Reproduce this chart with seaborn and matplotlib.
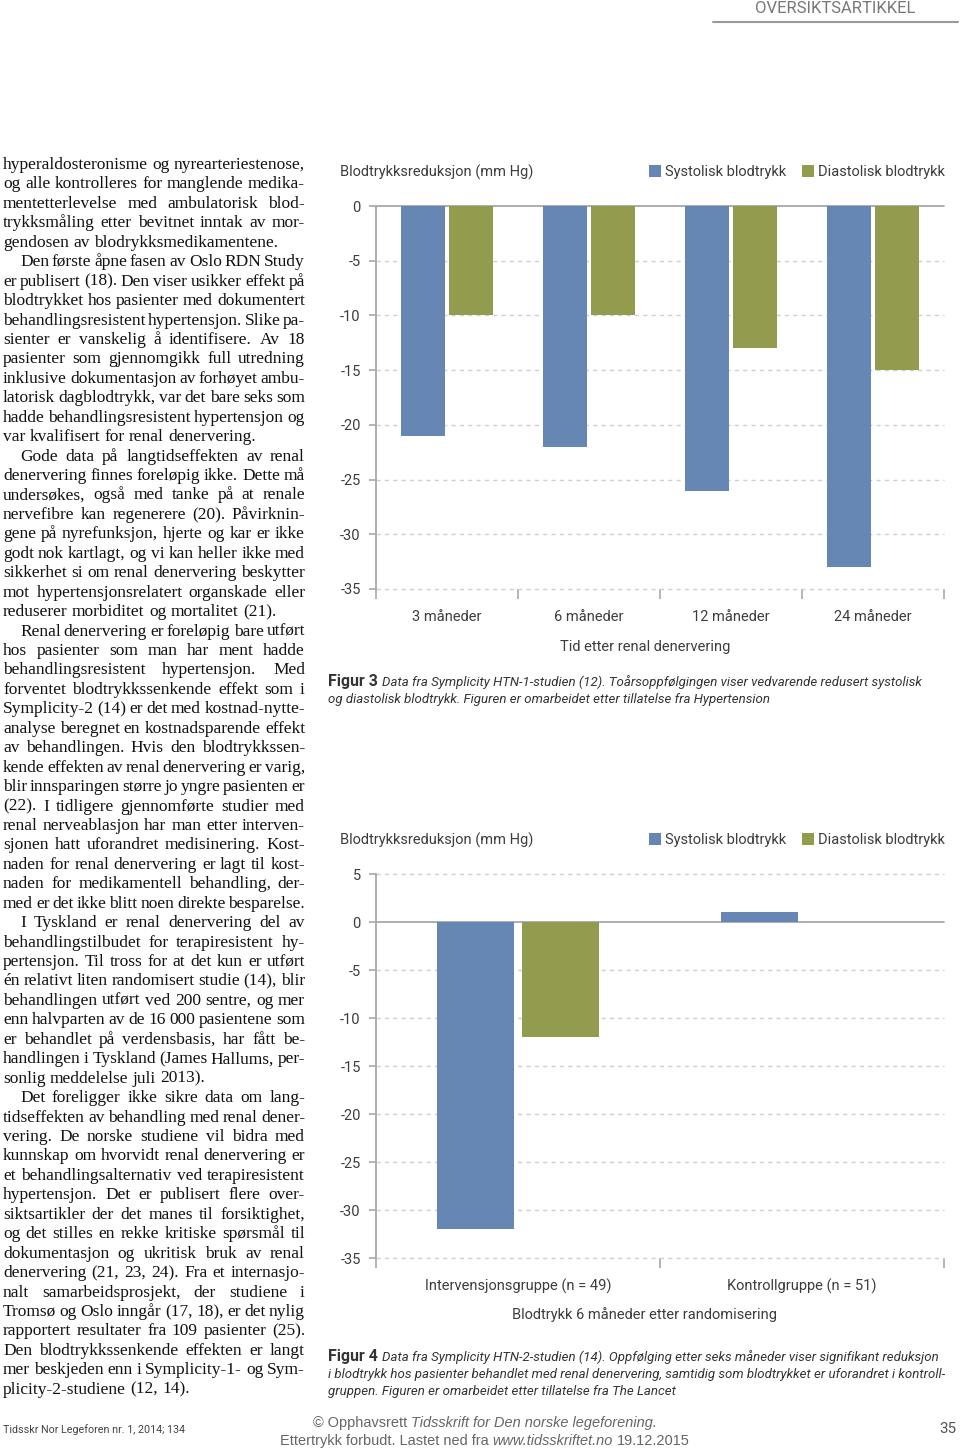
import numpy as np
import pandas as pd
import seaborn as sns
import matplotlib
matplotlib.use("Agg")
import matplotlib.pyplot as plt
from matplotlib.lines import Line2D
from matplotlib.font_manager import FontProperties

# ---------------- data ----------------
periods = ["3 måneder", "6 måneder", "12 måneder", "24 måneder"]
sys1 = [-21, -22, -26, -33]
dia1 = [-10, -10, -13, -15]
groups = ["Intervensjonsgruppe (n = 49)", "Kontrollgruppe (n = 51)"]
sys2 = [-32, 1]
dia2 = [-12, 0]
series = ["Systolisk blodtrykk", "Diastolisk blodtrykk"]
yticks1 = [0, -5, -10, -15, -20, -25, -30, -35]
yticks2 = [5, 0, -5, -10, -15, -20, -25, -30, -35]
colors = ["#6686b4", "#939b4e"]

paragraphs = [
    (False, ["hyperaldosteronisme og nyrearteriestenose,",
             "og alle kontrolleres for manglende medika-",
             "mentetterlevelse med ambulatorisk blod-",
             "trykksmåling etter bevitnet inntak av mor-",
             "gendosen av blodrykksmedikamentene."]),
    (True, ["Den første åpne fasen av Oslo RDN Study",
            "er publisert (18). Den viser usikker effekt på",
            "blodtrykket hos pasienter med dokumentert",
            "behandlingsresistent hypertensjon. Slike pa-",
            "sienter er vanskelig å identifisere. Av 18",
            "pasienter som gjennomgikk full utredning",
            "inklusive dokumentasjon av forhøyet ambu-",
            "latorisk dagblodtrykk, var det bare seks som",
            "hadde behandlingsresistent hypertensjon og",
            "var kvalifisert for renal denervering."]),
    (True, ["Gode data på langtidseffekten av renal",
            "denervering finnes foreløpig ikke. Dette må",
            "undersøkes, også med tanke på at renale",
            "nervefibre kan regenerere (20). Påvirknin-",
            "gene på nyrefunksjon, hjerte og kar er ikke",
            "godt nok kartlagt, og vi kan heller ikke med",
            "sikkerhet si om renal denervering beskytter",
            "mot hypertensjonsrelatert organskade eller",
            "reduserer morbiditet og mortalitet (21)."]),
    (True, ["Renal denervering er foreløpig bare utført",
            "hos pasienter som man har ment hadde",
            "behandlingsresistent hypertensjon. Med",
            "forventet blodtrykkssenkende effekt som i",
            "Symplicity-2 (14) er det med kostnad-nytte-",
            "analyse beregnet en kostnadsparende effekt",
            "av behandlingen. Hvis den blodtrykkssen-",
            "kende effekten av renal denervering er varig,",
            "blir innsparingen større jo yngre pasienten er",
            "(22). I tidligere gjennomførte studier med",
            "renal nerveablasjon har man etter interven-",
            "sjonen hatt uforandret medisinering. Kost-",
            "naden for renal denervering er lagt til kost-",
            "naden for medikamentell behandling, der-",
            "med er det ikke blitt noen direkte besparelse."]),
    (True, ["I Tyskland er renal denervering del av",
            "behandlingstilbudet for terapiresistent hy-",
            "pertensjon. Til tross for at det kun er utført",
            "én relativt liten randomisert studie (14), blir",
            "behandlingen utført ved 200 sentre, og mer",
            "enn halvparten av de 16 000 pasientene som",
            "er behandlet på verdensbasis, har fått be-",
            "handlingen i Tyskland (James Hallums, per-",
            "sonlig meddelelse juli 2013)."]),
    (True, ["Det foreligger ikke sikre data om lang-",
            "tidseffekten av behandling med renal dener-",
            "vering. De norske studiene vil bidra med",
            "kunnskap om hvorvidt renal denervering er",
            "et behandlingsalternativ ved terapiresistent",
            "hypertensjon. Det er publisert flere over-",
            "siktsartikler der det manes til forsiktighet,",
            "og det stilles en rekke kritiske spørsmål til",
            "dokumentasjon og ukritisk bruk av renal",
            "denervering (21, 23, 24). Fra et internasjo-",
            "nalt samarbeidsprosjekt, der studiene i",
            "Tromsø og Oslo inngår (17, 18), er det nylig",
            "rapportert resultater fra 109 pasienter (25).",
            "Den blodtrykkssenkende effekten er langt",
            "mer beskjeden enn i Symplicity-1- og Sym-",
            "plicity-2-studiene (12, 14)."]),
]

# ---------------- figure ----------------
sns.set_theme(style="white")
plt.rcParams["font.family"] = ["Roboto", "DejaVu Sans"]
W, H = 960, 1452
fig = plt.figure(figsize=(W / 100, H / 100), dpi=100)
renderer = fig.canvas.get_renderer()


def fx(x):
    return x / W


def fy(y):
    return 1 - y / H


def tw(s, fp):
    return renderer.get_text_width_height_descent(s, fp, ismath=False)[0]


def fit_size(s, family, target, style="normal", weight="normal"):
    fp = FontProperties(family=family, size=10, style=style, weight=weight)
    return 10 * target / tw(s, fp)


CH = "#3d3d3d"
GRID = "#cfcfcf"
AX = "#a8a8a8"
chart_font = ["Roboto", "DejaVu Sans"]
cfs = fit_size("Blodtrykksreduksjon (mm Hg)", chart_font, 195)


def draw_chart(top, bottom, cats, s_vals, d_vals, yticks, width, title_y, xlab, xlab_y):
    n = len(cats)
    df = pd.DataFrame({
        "cat": cats * 2,
        "type": [series[0]] * n + [series[1]] * n,
        "value": list(s_vals) + list(d_vals),
    })
    ax = fig.add_axes([fx(376), fy(bottom), fx(944) - fx(376), (bottom - top) / H])
    sns.barplot(data=df, x="cat", y="value", hue="type", order=cats, hue_order=series,
                palette=colors, width=width, gap=0.1, saturation=1, linewidth=0,
                ax=ax, zorder=3)
    ax.set_ylim(min(yticks), max(yticks))
    ax.set_xlim(-0.5, n - 0.5)
    for sp in ["top", "right", "bottom"]:
        ax.spines[sp].set_visible(False)
    ax.spines["left"].set_color(AX)
    ax.spines["left"].set_linewidth(1.3)
    for v in yticks:
        if v == 0:
            ax.axhline(0, color=AX, lw=1.3, zorder=2, clip_on=False)
        else:
            ax.axhline(v, color=GRID, lw=1.0, ls=(0, (3, 3)), zorder=1, clip_on=False)
    ax.set_yticks(yticks)
    ax.set_yticklabels([str(v) for v in yticks])
    ax.tick_params(axis="y", length=5, width=1.2, color=AX, labelsize=cfs,
                   labelcolor=CH, pad=6, direction="out", left=True)
    ax.set_xticks(range(n))
    ax.set_xticklabels(cats)
    ax.set_xticks(np.arange(-0.5, n, 1.0), minor=True)
    ax.tick_params(axis="x", which="major", length=0, labelsize=cfs, labelcolor=CH,
                   pad=15, bottom=True)
    ax.tick_params(axis="x", which="minor", length=7, width=1.2, color=AX,
                   direction="out", bottom=True)
    ax.set_ylabel("")
    ax.set_xlabel("")
    handles, labels = ax.get_legend_handles_labels()
    if ax.get_legend() is not None:
        ax.get_legend().remove()
    leg = ax.legend(handles, labels, loc="center right",
                    bbox_to_anchor=(fx(945), fy(title_y)), bbox_transform=fig.transFigure,
                    ncol=2, frameon=False, fontsize=cfs, handlelength=0.85,
                    handleheight=0.85, handletextpad=0.25, columnspacing=1.1,
                    borderpad=0, borderaxespad=0)
    for t in leg.get_texts():
        t.set_color(CH)
    fig.text(fx(340), fy(title_y), "Blodtrykksreduksjon (mm Hg)", ha="left", va="center",
             fontsize=cfs, color=CH, family=chart_font)
    fig.text(fx(645), fy(xlab_y), xlab, ha="center", va="center", fontsize=cfs,
             color=CH, family=chart_font)
    return ax


draw_chart(206, 589, periods, sys1, dia1, yticks1, 0.68, 172,
           "Tid etter renal denervering", 647)
draw_chart(874, 1258, groups, sys2, dia2, yticks2, 0.6, 840,
           "Blodtrykk 6 måneder etter randomisering", 1315)


# ---------------- captions ----------------
def rich(x, y, parts, ha="left", color="#333333"):
    """parts: list of (text, FontProperties). Gaps between parts are single spaces."""
    widths = [tw(s, fp) for s, fp in parts]
    spaces = [tw("n n", fp) - tw("nn", fp) for s, fp in parts]
    total = sum(widths) + sum(spaces[:-1])
    cx = x - total / 2 if ha == "center" else x
    for (s, fp), w, sp in zip(parts, widths, spaces):
        fig.text(fx(cx), fy(y), s, ha="left", va="baseline", fontproperties=fp, color=color)
        cx += w + sp


cap_font = ["Roboto", "DejaVu Sans"]
capfs = fit_size("i blodtrykk hos pasienter behandlet med renal denervering, samtidig som "
                 "blodtrykket er uforandret i kontroll-", cap_font, 614, style="italic")
fp_it = FontProperties(family=cap_font, size=capfs, style="italic")
fp_bd = FontProperties(family=cap_font, size=capfs * 1.2, weight="bold")

rich(328, 686, [("Figur 3", fp_bd), ("Data fra Symplicity HTN-1-studien (12). Toårsoppfølgingen "
                                    "viser vedvarende redusert systolisk", fp_it)])
rich(328, 703, [("og diastolisk blodtrykk. Figuren er omarbeidet etter tillatelse fra "
                 "Hypertension", fp_it)])
rich(328, 1361, [("Figur 4", fp_bd), ("Data fra Symplicity HTN-2-studien (14). Oppfølging etter "
                                     "seks måneder viser signifikant reduksjon", fp_it)])
rich(328, 1378, [("i blodtrykk hos pasienter behandlet med renal denervering, samtidig som "
                  "blodtrykket er uforandret i kontroll-", fp_it)])
rich(328, 1395, [("gruppen. Figuren er omarbeidet etter tillatelse fra The Lancet", fp_it)])

# ---------------- body text (justified) ----------------
serif = ["Liberation Serif", "DejaVu Serif"]
L, R, IND = 3, 305, 17
base = 12.5
fp0 = FontProperties(family=serif, size=base)
sp0 = tw("n n", fp0) - tw("nn", fp0)
worst = 1.0
for indent, lines in paragraphs:
    for i, ln in enumerate(lines):
        words = ln.split()
        need = sum(tw(w_, fp0) for w_ in words) + (len(words) - 1) * sp0 * 0.3
        avail = R - L - (IND if (indent and i == 0) else 0)
        worst = min(worst, avail / need)
bfs = base * worst
fpb = FontProperties(family=serif, size=bfs)
spb = tw("n n", fpb) - tw("nn", fpb)

row = 0
for indent, lines in paragraphs:
    for i, ln in enumerate(lines):
        y = 164 + row * 19.44 + 5
        words = ln.split()
        ws = [tw(w_, fpb) for w_ in words]
        x0 = L + (IND if (indent and i == 0) else 0)
        last = i == len(lines) - 1
        just = (R - x0 - sum(ws)) / max(len(words) - 1, 1)
        if last or len(words) == 1:
            gap = min(spb, just)
        else:
            gap = just
        cx = x0
        for w_, wd in zip(words, ws):
            fig.text(fx(cx), fy(y), w_, ha="left", va="baseline", fontproperties=fpb,
                     color="#111111")
            cx += wd + gap
        row += 1

# ---------------- header / footer ----------------
fig.text(fx(835), fy(13), "OVERSIKTSARTIKKEL", ha="center", va="baseline",
         fontsize=fit_size("OVERSIKTSARTIKKEL", chart_font, 160), color="#777777",
         family=chart_font)
fig.add_artist(Line2D([fx(713), fx(958)], [fy(22), fy(22)], color="#9a9a9a", lw=1.5))

fig.text(fx(3), fy(1430), "Tidsskr Nor Legeforen nr. 1, 2014; 134", ha="left", va="center",
         fontsize=fit_size("Tidsskr Nor Legeforen nr. 1, 2014; 134", chart_font, 183),
         color="#444444", family=chart_font)
fig.text(fx(956), fy(1429), "35", ha="right", va="center", fontsize=11,
         color="#555555", family=chart_font)

sans = ["Liberation Sans", "DejaVu Sans"]
cfs2 = fit_size("Ettertrykk forbudt. Lastet ned fra www.tidsskriftet.no 19.12.2015", sans, 410)
fp_n = FontProperties(family=sans, size=cfs2)
fp_i = FontProperties(family=sans, size=cfs2, style="italic")
rich(485, 1427, [("© Opphavsrett", fp_n), ("Tidsskrift for Den norske legeforening.", fp_i)],
     ha="center", color="#666666")
rich(485, 1445, [("Ettertrykk forbudt. Lastet ned fra", fp_n), ("www.tidsskriftet.no", fp_i),
                 ("19.12.2015", fp_n)], ha="center", color="#666666")

fig.savefig("out.png", dpi=100)
